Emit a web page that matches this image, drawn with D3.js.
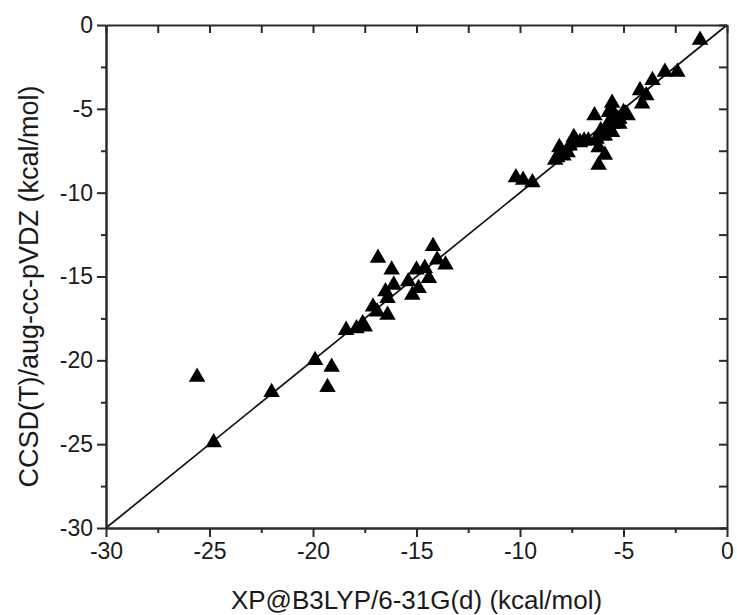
<!DOCTYPE html>
<html><head><meta charset="utf-8">
<script src="https://cdn.jsdelivr.net/npm/d3@7"></script>
<style>body{margin:0;background:#fff}svg{display:block}</style>
</head><body>
<svg id="c" width="737" height="615"></svg>
<script>
// XP@B3LYP/6-31G(d) values (x) and CCSD(T)/aug-cc-pVDZ values (y), kcal/mol
const xpValues = [
 -1.3,-2.4,-3.0,-3.6,-4.2,-4.1,-3.9,-5.55,-5.0,-6.4,-5.8,-5.55,-6.2,-5.9,-6.2,-7.4,-8.1,-8.3,-7.1,-7.7,
 -5.3,-5.6,-6.0,-6.3,-5.2,-4.8,-6.9,-7.9,-8.0,-5.7,
 -5.7,-5.5,-5.9,-6.1,-5.2,-4.9,-7.6,-7.3,-6.7,-8.2,
 -10.2,-9.85,-9.4,
 -16.86,-14.2,-16.2,-16.1,-16.5,-16.4,-15.0,-14.6,-14.0,-13.6,-14.4,-15.4,-14.9,-15.2,-17.1,-16.9,-16.4,-17.6,-17.5,-17.9,-18.4,
 -19.9,-19.1,-25.6,-19.3,-22.0,-24.8
];
const ccsdValues = [
 -0.9,-2.8,-2.8,-3.3,-3.9,-4.7,-4.2,-4.65,-5.2,-5.4,-6.1,-6.4,-7.3,-7.75,-8.35,-6.7,-7.3,-8.05,-7.0,-7.6,
 -5.6,-5.0,-6.6,-6.8,-5.9,-5.4,-6.9,-7.8,-7.5,-5.8,
 -5.2,-5.9,-6.6,-6.3,-5.6,-5.3,-7.2,-6.9,-6.9,-7.9,
 -9.1,-9.25,-9.4,
 -13.9,-13.2,-14.6,-15.5,-15.9,-16.3,-14.6,-14.5,-14.0,-14.3,-15.1,-15.3,-15.7,-16.1,-16.8,-17.1,-17.3,-17.8,-18.0,-18.1,-18.2,
 -20.0,-20.4,-21.0,-21.6,-21.9,-24.9
];
const majorTicks = [-30,-25,-20,-15,-10,-5,0];
const minorTicks = [-27.5,-22.5,-17.5,-12.5,-7.5,-2.5];
const xTitle = "XP@B3LYP/6-31G(d) (kcal/mol)";
const yTitle = "CCSD(T)/aug-cc-pVDZ (kcal/mol)";

const svg = d3.select("#c");
const L = 106, R = 727, T = 25, B = 528;
const x = d3.scaleLinear().domain([-30,0]).range([L,R]);
const y = d3.scaleLinear().domain([-30,0]).range([B,T]);
const axisColor = "#2a2a2a", font = "'Liberation Sans', Arial, sans-serif";
const fmt = d => String(d);

// diagonal y = x
svg.append("line").attr("x1",x(-30)).attr("y1",y(-30)).attr("x2",x(0)).attr("y2",y(0))
  .attr("stroke","#111").attr("stroke-width",1.7);

// points
const pts = xpValues.map((v,i)=>[v, ccsdValues[i]]);
svg.append("g").selectAll("path").data(pts).join("path")
  .attr("d", d3.symbol(d3.symbolTriangle, 118))
  .attr("transform", d=>`translate(${x(d[0])},${y(d[1])})`)
  .attr("fill","#000");

function styleAxis(g, showText){
  g.select(".domain").attr("stroke",axisColor).attr("stroke-width",2);
  g.selectAll(".tick line").attr("stroke",axisColor).attr("stroke-width",2);
  g.selectAll(".tick text").attr("fill","#1a1a1a").style("font-family",font).style("font-size","23px");
  if(!showText) g.selectAll(".tick text").remove();
}
// bottom
const gb = svg.append("g").attr("transform",`translate(0,${B})`)
  .call(d3.axisBottom(x).tickValues(majorTicks).tickSize(9).tickSizeOuter(0).tickPadding(6).tickFormat(fmt));
styleAxis(gb,true);
svg.append("g").attr("transform",`translate(0,${B})`)
  .call(d3.axisBottom(x).tickValues(minorTicks).tickSize(5).tickSizeOuter(0).tickFormat(""))
  .call(g=>styleAxis(g,false));
// left
const gl = svg.append("g").attr("transform",`translate(${L},0)`)
  .call(d3.axisLeft(y).tickValues(majorTicks).tickSize(9).tickSizeOuter(0).tickPadding(4).tickFormat(fmt));
styleAxis(gl,true);
svg.append("g").attr("transform",`translate(${L},0)`)
  .call(d3.axisLeft(y).tickValues(minorTicks).tickSize(5).tickSizeOuter(0).tickFormat(""))
  .call(g=>styleAxis(g,false));
// top (inward)
svg.append("g").attr("transform",`translate(0,${T})`)
  .call(d3.axisTop(x).tickValues(majorTicks.concat(minorTicks)).tickSize(-8).tickSizeOuter(0).tickFormat(""))
  .call(g=>styleAxis(g,false));
// right (inward)
svg.append("g").attr("transform",`translate(${R},0)`)
  .call(d3.axisRight(y).tickValues(majorTicks.concat(minorTicks)).tickSize(-8).tickSizeOuter(0).tickFormat(""))
  .call(g=>styleAxis(g,false));

// titles
svg.append("text").attr("x",(L+R)/2).attr("y",609).attr("text-anchor","middle")
  .attr("fill","#1a1a1a").style("font-family",font).style("font-size","26px").text(xTitle);
svg.append("text").attr("transform",`translate(38,${(T+B)/2+10}) rotate(-90)`).attr("text-anchor","middle")
  .attr("fill","#1a1a1a").style("font-family",font).style("font-size","27px").text(yTitle);
</script>
</body></html>
